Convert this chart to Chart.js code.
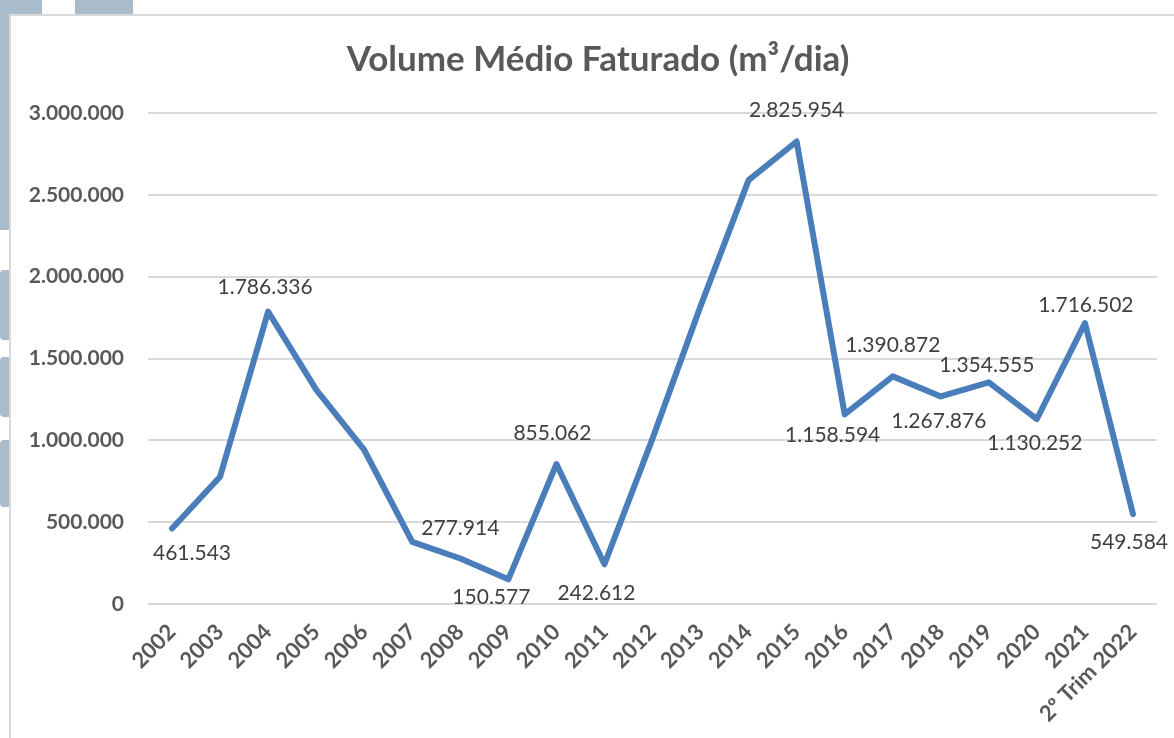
<!DOCTYPE html>
<html>
<head>
<meta charset="utf-8">
<script src="https://cdn.jsdelivr.net/npm/chart.js@4/dist/chart.umd.min.js"></script>
<style>
  html, body { margin:0; padding:0; background:#ffffff; }
  body { width:1174px; height:738px; position:relative; overflow:hidden; }
  .bg { position:absolute; background:#A9BCCB; }
  #box { position:absolute; left:9px; top:14px; width:1165px; height:724px;
         background:#ffffff; border-left:2px solid #d9d9d9; border-top:2px solid #d9d9d9; box-sizing:border-box; }
  #c { display:block; }
</style>
</head>
<body>
<div class="bg" style="left:0;top:0;width:42px;height:230px;"></div>
<div class="bg" style="left:75px;top:0;width:58px;height:20px;"></div>
<div class="bg" style="left:0;top:270px;width:14px;height:70px;border-radius:4px;"></div>
<div class="bg" style="left:0;top:357px;width:14px;height:60px;border-radius:4px;"></div>
<div class="bg" style="left:0;top:440px;width:14px;height:67px;border-radius:4px;"></div>
<div id="box"><canvas id="c" width="1163" height="722"></canvas></div>
<script>
// ---- data ----
const categories = ['2002','2003','2004','2005','2006','2007','2008','2009','2010','2011',
                    '2012','2013','2014','2015','2016','2017','2018','2019','2020','2021','2º Trim 2022'];
const volumes = [461543, 778000, 1786336, 1310000, 941000, 380000, 277914, 150577, 855062, 242612,
                 1010000, 1820000, 2590000, 2825954, 1158594, 1390872, 1267876, 1354555, 1130252, 1716502, 549584];
const yTicks = [0, 500000, 1000000, 1500000, 2000000, 2500000, 3000000];
const chartTitle = 'Volume Médio Faturado (m³/dia)';
// label placement (dx, dy from point); null = no label shown
const labelOffsets = [[20,25],null,[-3,-24],null,null,null,[0,-30],[-17,18],[-4,-31],[-8,29],
                      null,null,null,[0,-31],[-12,21],[0,-31],[-2,25],[-2,-17],[-2,24],[1,-18],[-4,28]];

function fmt(v){ return String(v).replace(/\B(?=(\d{3})+(?!\d))/g, '.'); }

const FONT = 'Lato, "Open Sans", sans-serif';

const titlePlugin = {
  id:'titleDraw',
  afterDraw(chart){
    const ctx = chart.ctx;
    ctx.save();
    ctx.font = 'bold 35px ' + FONT;
    ctx.fillStyle = '#595959';
    ctx.textAlign = 'center';
    ctx.textBaseline = 'alphabetic';
    ctx.fillText(chartTitle, 587, 55);
    ctx.restore();
  }
};

const labelPlugin = {
  id:'dataLabels',
  afterDatasetsDraw(chart){
    const ctx = chart.ctx;
    const meta = chart.getDatasetMeta(0);
    ctx.save();
    ctx.font = '21px ' + FONT;
    ctx.fillStyle = '#404040';
    ctx.textAlign = 'center';
    ctx.textBaseline = 'middle';
    meta.data.forEach((pt, i) => {
      const off = labelOffsets[i];
      if (!off) return;
      ctx.fillText(fmt(volumes[i]), pt.x + off[0], pt.y + off[1]);
    });
    ctx.restore();
  }
};

new Chart(document.getElementById('c'), {
  type:'line',
  data:{
    labels: categories,
    datasets:[{
      data: volumes,
      borderColor:'#4A7EBB',
      borderWidth:6,
      pointRadius:0,
      pointHoverRadius:0,
      tension:0,
      borderJoinStyle:'round',
      borderCapStyle:'round',
      fill:false
    }]
  },
  options:{
    responsive:false,
    animation:false,
    events:[],
    layout:{ padding:{ left:0, right:17, top:97, bottom:0 } },
    plugins:{ legend:{display:false}, title:{display:false}, tooltip:{enabled:false} },
    scales:{
      x:{
        offset:true,
        grid:{ display:false, drawTicks:false },
        border:{ display:false },
        ticks:{
          autoSkip:false, minRotation:45, maxRotation:45, padding:15,
          color:'#595959', font:{ family:FONT, size:22, weight:'bold' }
        },
        afterFit(scale){ scale.height = 134; }
      },
      y:{
        min:0, max:3000000,
        afterBuildTicks(scale){ scale.ticks = yTicks.map(v => ({value:v})); },
        grid:{ color:'#d9d9d9', lineWidth:2, drawTicks:false },
        border:{ display:false },
        ticks:{
          padding:24, color:'#595959',
          font:{ family:FONT, size:21, weight:'bold' },
          callback:(v) => fmt(v)
        },
        afterFit(scale){ scale.width = 137; }
      }
    }
  },
  plugins:[titlePlugin, labelPlugin]
});
</script>
</body>
</html>
